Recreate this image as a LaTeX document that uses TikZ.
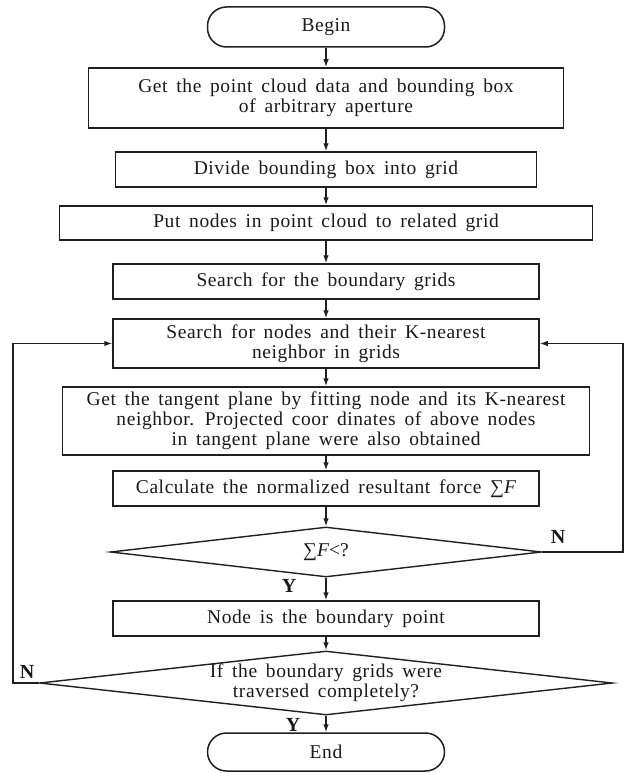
\documentclass[tikz,border=0pt]{standalone}
\usepackage{fontspec}
\setmainfont{Liberation Serif}[LetterSpace=3,WordSpace=1.6]
\newfontfamily\tightfont{Liberation Serif}
\usetikzlibrary{shapes.geometric,arrows.meta}
\tikzset{
  base/.style={draw=black!88, line width=1.5pt, inner sep=0pt, align=center,
    font=\fontsize{19.5}{20}\selectfont, text=black!90},
  proc/.style={base, rectangle},
  term/.style={base, rectangle, rounded corners=19pt},
  dec/.style={base, diamond, line width=1.4pt},
  lbl/.style={inner sep=0pt, align=center, font=\fontsize{19.5}{20}\selectfont, text=black!90},
  yn/.style={inner sep=0pt, font=\tightfont\fontsize{20}{20}\selectfont\bfseries, text=black!90},
  arr/.style={draw=black!88, line width=1.3pt, -{Latex[length=8pt,width=5.5pt]}},
  ln/.style={draw=black!88, line width=1.3pt}
}
\begin{document}
\begin{tikzpicture}[x=1pt,y=-1pt]
\useasboundingbox (0,0) rectangle (625,773);
\node[term, minimum width=237pt, minimum height=40pt] (begin) at (326,27) {Begin};
\node[proc, minimum width=475pt, minimum height=60pt] (b1) at (326,98) {Get the point cloud data and bounding box\\of arbitrary aperture};
\node[proc, minimum width=421pt, minimum height=35pt] (b2) at (326,169.5) {Divide bounding box into grid};
\node[proc, minimum width=533pt, minimum height=34pt] (b3) at (326,223) {Put nodes in point cloud to related grid};
\node[proc, minimum width=426pt, minimum height=35pt] (b4) at (326,281.5) {Search for the boundary grids};
\node[proc, minimum width=426pt, minimum height=49pt] (b5) at (326,343.5) {Search for nodes and their K-nearest\\neighbor in grids};
\node[proc, minimum width=527pt, minimum height=68pt] (b6) at (326,421) {Get the tangent plane by fitting node and its K-nearest\\neighbor. Projected coor dinates of above nodes\\in tangent plane were also obtained};
\node[proc, minimum width=426pt, minimum height=35pt] (b7) at (326,488.5) {Calculate the normalized resultant force {\tightfont∑\textit{F}}};
\node[dec, minimum width=431pt, minimum height=50pt] (d1) at (326,552) {};
\node[lbl, font=\tightfont\fontsize{19.5}{20}\selectfont] (d1t) at (d1.center) {∑\textit{F}<?};
\node[proc, minimum width=426pt, minimum height=35pt] (b8) at (326,618.5) {Node is the boundary point};
\node[dec, minimum width=573pt, minimum height=64pt] (d2) at (326,683) {};
\node[lbl] (d2t) at (d2.center) {If the boundary grids were\\traversed completely?};
\node[term, minimum width=237pt, minimum height=38pt] (end) at (326,752) {End};
\coordinate (rr) at (623,0);
\coordinate (ll) at (13,0);
\draw[arr] (begin) -- (b1);
\draw[arr] (b1) -- (b2);
\draw[arr] (b2) -- (b3);
\draw[arr] (b3) -- (b4);
\draw[arr] (b4) -- (b5);
\draw[arr] (b5) -- (b6);
\draw[arr] (b6) -- (b7);
\draw[arr] (b7) -- (d1);
\draw[arr] (d1) -- (b8);
\draw[arr] (b8) -- (d2);
\draw[arr] (d2) -- (end);
\draw[arr] (d1.east) -- (d1.east -| rr) |- (b5.east);
\draw[arr] (d2.west) -- (d2.west -| ll) |- (b5.west);
\node[yn] (y1) at (289,586) {Y};
\node[yn] (y2) at (293,725) {Y};
\node[yn] (n1) at (558,537) {N};
\node[yn] (n2) at (27,672) {N};
\end{tikzpicture}
\end{document}
